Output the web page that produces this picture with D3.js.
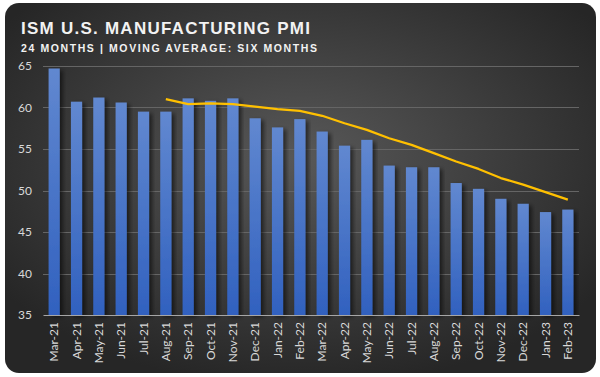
<!DOCTYPE html>
<html>
<head>
<meta charset="utf-8">
<script src="https://cdn.jsdelivr.net/npm/d3@7"></script>
<style>
  body { margin: 0; background: #ffffff; }
  svg { display: block; }
</style>
</head>
<body>
<div id="chart"></div>
<script>
// Chart data

var months = ["Mar-21", "Apr-21", "May-21", "Jun-21", "Jul-21", "Aug-21", "Sep-21", "Oct-21",
    "Nov-21", "Dec-21", "Jan-22", "Feb-22", "Mar-22", "Apr-22", "May-22", "Jun-22",
    "Jul-22", "Aug-22", "Sep-22", "Oct-22", "Nov-22", "Dec-22", "Jan-23", "Feb-23"]

var pmi = [64.7, 60.7, 61.2, 60.6, 59.5, 59.5, 61.1, 60.8,
    61.1, 58.7, 57.6, 58.6, 57.1, 55.4, 56.1, 53.0,
    52.8, 52.8, 50.9, 50.2, 49.0, 48.4, 47.4, 47.7]

// six month moving average, starts at Aug-21
var avgMonths = months.slice(5)
var movingAvg = [61.0, 60.4, 60.5, 60.4, 60.1, 59.8, 59.6, 59.0, 58.1, 57.3,
    56.3, 55.5, 54.5, 53.5, 52.6, 51.5, 50.7, 49.8, 48.9]

var yTicks = [35, 40, 45, 50, 55, 60, 65]

var title = "ISM U.S. MANUFACTURING PMI"
var subtitle = "24 MONTHS | MOVING AVERAGE: SIX MONTHS"

var width = 600
var height = 377
var plot = {left: 43, right: 579, top: 66, bottom: 315}

// Scales

var x_scale = d3.scaleBand()
    .domain(months)
    .range([plot.left, plot.right])
    .paddingInner(0.5)
    .paddingOuter(0.25);

var y_scale = d3.scaleLinear()
    .domain([35, 65])
    .range([plot.bottom, plot.top]);

var svg = d3.select("#chart")
    .append("svg")
    .attr("width", width)
    .attr("height", height)

var defs = svg.append("defs")

var bg = defs.append("radialGradient")
    .attr("id", "bg")
    .attr("cx", "50%").attr("cy", "42%").attr("r", "62%")
bg.append("stop").attr("offset", "0%").attr("stop-color", "#585858")
bg.append("stop").attr("offset", "100%").attr("stop-color", "#262626")

var barFill = defs.append("linearGradient")
    .attr("id", "barFill")
    .attr("x1", 0).attr("y1", 0).attr("x2", 0).attr("y2", 1)
barFill.append("stop").attr("offset", "0%").attr("stop-color", "#6188d0")
barFill.append("stop").attr("offset", "100%").attr("stop-color", "#3161bf")

var shadow = defs.append("filter")
    .attr("id", "shadow")
    .attr("x", "-50%").attr("y", "-10%").attr("width", "200%").attr("height", "120%")
shadow.append("feDropShadow")
    .attr("dx", 3).attr("dy", 2)
    .attr("stdDeviation", 2)
    .attr("flood-color", "#000")
    .attr("flood-opacity", 0.55)

// Card background

svg.append("rect")
    .attr("x", 5).attr("y", 3)
    .attr("width", 591).attr("height", 370)
    .attr("rx", 14)
    .style("fill", "url(#bg)")

// Titles

svg.append("text")
    .attr("x", 21).attr("y", 34)
    .attr("textLength", 289)
    .attr("lengthAdjust", "spacing")
    .style("font-family", "'Liberation Sans', Arial, sans-serif")
    .style("font-weight", "bold")
    .style("font-size", "17px")
    .style("fill", "#f2f2f2")
    .text(title)

svg.append("text")
    .attr("x", 21).attr("y", 52)
    .attr("textLength", 296)
    .attr("lengthAdjust", "spacing")
    .style("font-family", "'Liberation Sans', Arial, sans-serif")
    .style("font-weight", "bold")
    .style("font-size", "10.5px")
    .style("fill", "#f2f2f2")
    .text(subtitle)

// Gridlines

svg.append("g")
    .selectAll("line")
    .data(yTicks.slice(1))
    .enter()
    .append("line")
    .attr("x1", plot.left).attr("x2", plot.right)
    .attr("y1", function(d) { return Math.round(y_scale(d)) + 0.5; })
    .attr("y2", function(d) { return Math.round(y_scale(d)) + 0.5; })
    .style("stroke", "#656565")
    .style("stroke-width", 1)

// Bars

svg.append("g")
    .selectAll("rect")
    .data(months)
    .enter()
    .append("rect")
    .attr("x", function(d) { return x_scale(d); })
    .attr("y", function(d, i) { return y_scale(pmi[i]); })
    .attr("width", x_scale.bandwidth())
    .attr("height", function(d, i) { return y_scale(35) - y_scale(pmi[i]); })
    .attr("filter", "url(#shadow)")
    .style("fill", "url(#barFill)")

// Moving average line

var line = d3.line()
    .x(function(d) { return x_scale(d) + x_scale.bandwidth() / 2; })
    .y(function(d, i) { return y_scale(movingAvg[i]); })

svg.append("path")
    .datum(avgMonths)
    .attr("d", line)
    .style("fill", "none")
    .style("stroke", "#ffc000")
    .style("stroke-width", 2.25)
    .style("stroke-linejoin", "round")

// Axes

var yAxis = d3.axisLeft(y_scale).tickValues(yTicks).tickSize(0).tickPadding(11)
var xAxis = d3.axisBottom(x_scale).tickSize(0).tickPadding(8)

var yg = svg.append("g")
    .attr("transform", "translate(" + plot.left + ",0)")
    .call(yAxis)
yg.select(".domain").remove()
yg.selectAll("text")
    .style("font-family", "Lato, 'Open Sans', sans-serif")
    .style("font-size", "12px")
    .style("fill", "#d9d9d9")

var xg = svg.append("g")
    .attr("transform", "translate(0," + plot.bottom + ")")
    .call(xAxis)
xg.select(".domain")
    .style("stroke", "#a6a6a6")
xg.selectAll("text")
    .attr("transform", "rotate(-90)")
    .attr("x", -7)
    .attr("y", 0)
    .attr("dy", "0.35em")
    .style("text-anchor", "end")
    .style("font-family", "Lato, 'Open Sans', sans-serif")
    .style("font-size", "12px")
    .style("fill", "#d9d9d9")
</script>
</body>
</html>
